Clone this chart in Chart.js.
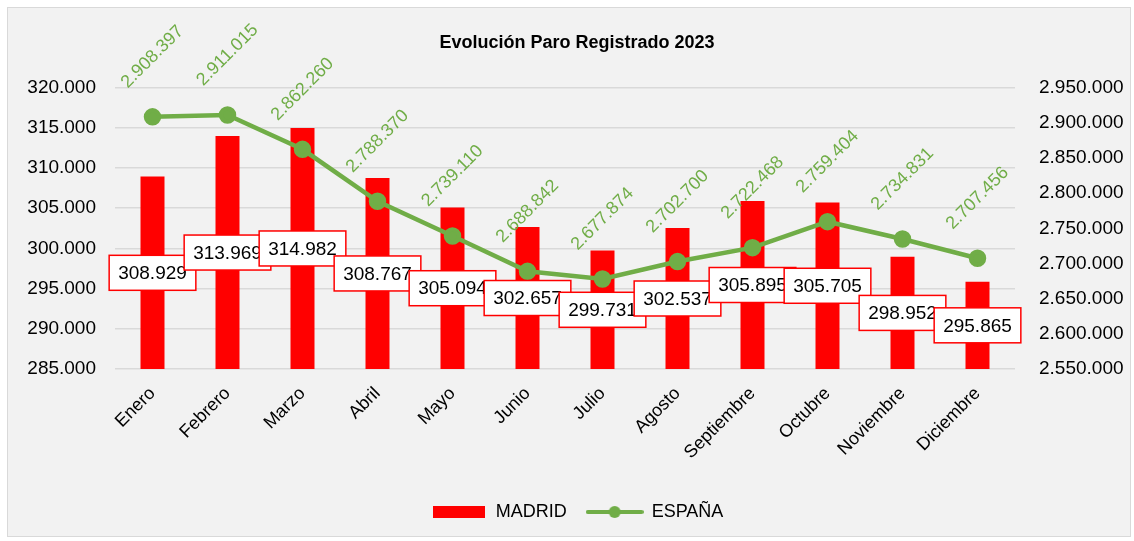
<!DOCTYPE html>
<html>
<head>
<meta charset="utf-8">
<script src="https://cdn.jsdelivr.net/npm/chart.js@4/dist/chart.umd.min.js"></script>
<style>
  html, body { margin: 0; padding: 0; background: #fff; }
  #wrap { position: relative; width: 1134px; height: 541px; }
  #frame { position: absolute; left: 7px; top: 7px; width: 1122px; height: 528px; background: #f2f2f2; border: 1px solid #d9d9d9; }
  #chart { position: absolute; left: 0; top: 0; }
</style>
</head>
<body>
<div id="wrap">
  <div id="frame"></div>
  <canvas id="chart" width="1134" height="541"></canvas>
</div>
<script>
// datos
const meses = ['Enero', 'Febrero', 'Marzo', 'Abril', 'Mayo', 'Junio', 'Julio', 'Agosto', 'Septiembre', 'Octubre', 'Noviembre', 'Diciembre'];
const madrid = [308929, 313969, 314982, 308767, 305094, 302657, 299731, 302537, 305895, 305705, 298952, 295865];
const espana = [2908397, 2911015, 2862260, 2788370, 2739110, 2688842, 2677874, 2702700, 2722468, 2759404, 2734831, 2707456];

const ROJO = '#ff0000';
const VERDE = '#70ad47';
const FUENTE = '"Liberation Sans", Arial, sans-serif';

// 2908397 -> "2.908.397"
function fmt(v) {
  return String(Math.round(v)).replace(/\B(?=(\d{3})+(?!\d))/g, '.');
}

function icono(w, h, draw) {
  const c = document.createElement('canvas');
  c.width = w;
  c.height = h;
  draw(c.getContext('2d'));
  return c;
}

const iconoBarra = icono(52, 12, g => {
  g.fillStyle = ROJO;
  g.fillRect(0, 0, 52, 12);
});

const iconoLinea = icono(58, 14, g => {
  g.strokeStyle = VERDE;
  g.lineWidth = 4;
  g.lineCap = 'round';
  g.beginPath();
  g.moveTo(2, 7);
  g.lineTo(56, 7);
  g.stroke();
  g.fillStyle = VERDE;
  g.beginPath();
  g.arc(29, 7, 6, 0, Math.PI * 2);
  g.fill();
});

// etiquetas de valores (cajas en mitad de las barras, texto girado sobre la línea)
const etiquetas = {
  id: 'etiquetas',
  afterDatasetsDraw(chart) {
    const ctx = chart.ctx;
    const sx = chart.scales.x;
    const sy = chart.scales.y;
    const sy1 = chart.scales.y1;
    ctx.save();
    ctx.font = '19px ' + FUENTE;
    ctx.textAlign = 'center';
    ctx.textBaseline = 'middle';

    madrid.forEach((v, i) => {
      const txt = fmt(v);
      const w = ctx.measureText(txt).width + 18;
      const h = 35;
      const x = sx.getPixelForValue(i);
      const y = (sy.getPixelForValue(v) + sy.getPixelForValue(sy.min)) / 2;
      ctx.fillStyle = '#ffffff';
      ctx.fillRect(x - w / 2, y - h / 2, w, h);
      ctx.strokeStyle = ROJO;
      ctx.lineWidth = 1.5;
      ctx.strokeRect(x - w / 2, y - h / 2, w, h);
      ctx.fillStyle = '#000';
      ctx.fillText(txt, x, y + 1);
    });

    ctx.font = '18px ' + FUENTE;
    ctx.fillStyle = VERDE;
    espana.forEach((v, i) => {
      ctx.save();
      ctx.translate(sx.getPixelForValue(i), sy1.getPixelForValue(v) - 60);
      ctx.rotate(-Math.PI / 4);
      ctx.fillText(fmt(v), 0, 0);
      ctx.restore();
    });
    ctx.restore();
  }
};

const rejilla = { color: '#d9d9d9', lineWidth: 1.5, drawTicks: false };

new Chart(document.getElementById('chart'), {
  data: {
    labels: meses,
    datasets: [
      {
        type: 'bar',
        label: 'MADRID',
        data: madrid,
        backgroundColor: ROJO,
        yAxisID: 'y',
        barPercentage: 0.32,
        categoryPercentage: 1,
        order: 2
      },
      {
        type: 'line',
        label: 'ESPAÑA',
        data: espana,
        borderColor: VERDE,
        backgroundColor: VERDE,
        borderWidth: 4.5,
        pointRadius: 6.5,
        pointHoverRadius: 6.5,
        yAxisID: 'y1',
        order: 1
      }
    ]
  },
  options: {
    responsive: false,
    animation: false,
    layout: { padding: { left: 20, right: 0, top: 0, bottom: 10 } },
    scales: {
      x: {
        grid: { display: false },
        border: { display: false },
        ticks: {
          color: '#000',
          font: { family: FUENTE, size: 18 },
          minRotation: 45,
          maxRotation: 45,
          padding: 6
        },
        afterFit(scale) { scale.height = 114; }
      },
      y: {
        position: 'left',
        min: 285000,
        max: 320000,
        grid: rejilla,
        border: { display: false },
        ticks: {
          stepSize: 5000,
          color: '#000',
          font: { family: FUENTE, size: 19 },
          padding: 19,
          callback: v => fmt(v)
        },
        afterFit(scale) { scale.width = 95; }
      },
      y1: {
        position: 'right',
        min: 2550000,
        max: 2950000,
        grid: { display: false },
        border: { display: false },
        ticks: {
          stepSize: 50000,
          color: '#000',
          font: { family: FUENTE, size: 19 },
          padding: 16,
          callback: v => fmt(v)
        },
        afterFit(scale) { scale.width = 119; }
      }
    },
    plugins: {
      title: {
        display: true,
        text: 'Evolución Paro Registrado 2023',
        color: '#000',
        font: { family: FUENTE, size: 18, weight: 'bold' },
        padding: { top: 32, bottom: 34 }
      },
      legend: {
        position: 'bottom',
        labels: {
          color: '#000',
          font: { family: FUENTE, size: 18 },
          usePointStyle: true,
          pointStyleWidth: 56,
          padding: 20,
          generateLabels(chart) {
            const items = Chart.defaults.plugins.legend.labels.generateLabels(chart);
            items.sort((a, b) => a.datasetIndex - b.datasetIndex);
            items.forEach(it => {
              it.pointStyle = it.datasetIndex === 0 ? iconoBarra : iconoLinea;
            });
            return items;
          }
        }
      },
      tooltip: { enabled: false }
    }
  },
  plugins: [etiquetas]
});
</script>
</body>
</html>
